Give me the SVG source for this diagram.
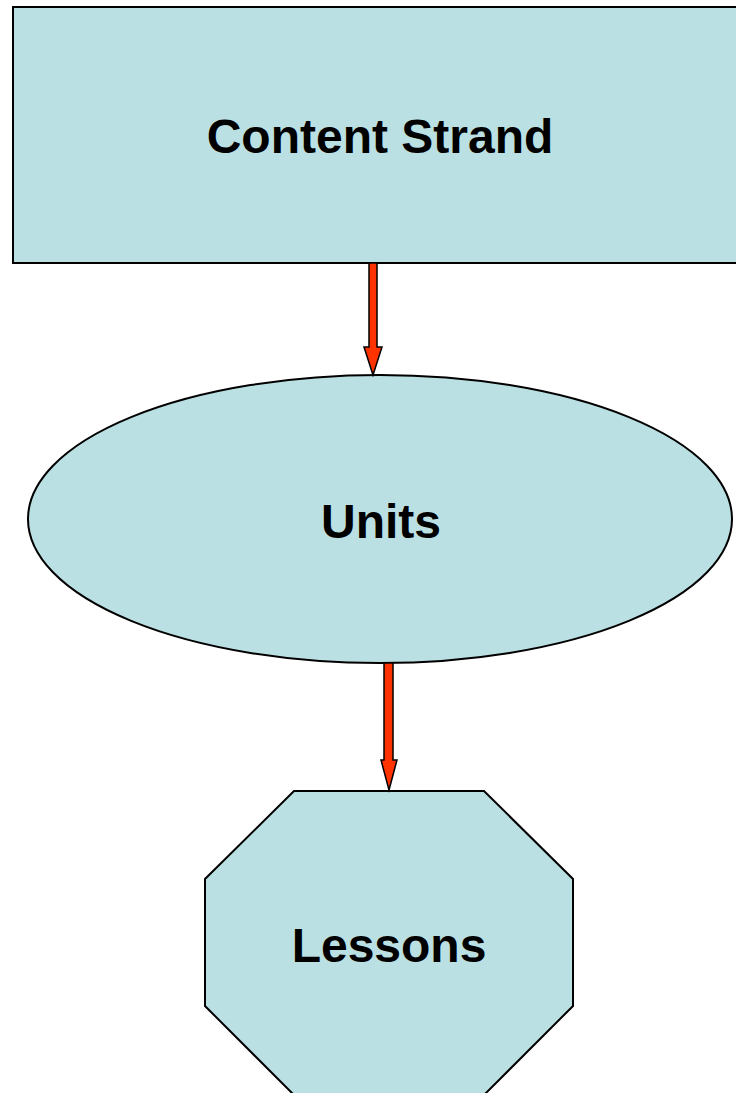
<svg xmlns="http://www.w3.org/2000/svg" width="736" height="1093" viewBox="0 0 736 1093">
  <style>
    .shape { fill: #BBE0E3; stroke: #000; stroke-width: 2; }
    .label { font-family: "Liberation Sans", Arial, sans-serif; font-weight: bold; font-size: 48px; fill: #000; text-anchor: middle; }
    .arrow { fill: #FF3300; stroke: #000; stroke-width: 1.5; stroke-linejoin: miter; }
  </style>
  <rect width="736" height="1093" fill="#fff"/>

  <g id="content-strand">
    <rect class="shape" x="13" y="7" width="740" height="256"/>
    <text class="label" x="380" y="153">Content Strand</text>
  </g>

  <g id="units">
    <ellipse class="shape" cx="380" cy="519" rx="352" ry="144"/>
    <text class="label" x="381" y="538">Units</text>
  </g>

  <g id="lessons">
    <polygon class="shape" points="294,791 484,791 573,879 573,1006 484,1095 294,1095 205,1006 205,879"/>
    <text class="label" x="389" y="962">Lessons</text>
  </g>

  <g id="connectors">
    <!-- block arrow: Content Strand to Units -->
    <polygon class="arrow" points="369,263 377,263 377,347 382,347 373,375 364,347 369,347"/>
    <!-- block arrow: Units to Lessons -->
    <polygon class="arrow" points="384,663 393,663 393,760 397,760 389,790 381,760 384,760"/>
  </g>
</svg>
